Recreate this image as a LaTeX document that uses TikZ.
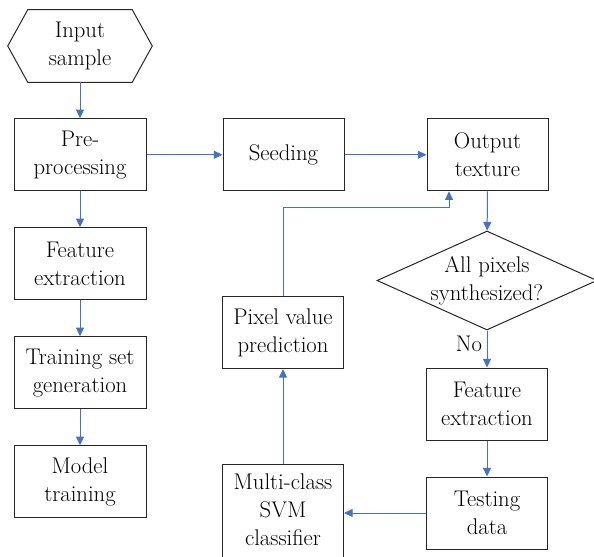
\documentclass[tikz,border=0pt]{standalone}
\usepackage{xcolor}
\usepackage{tikz}
\usetikzlibrary{shapes,arrows.meta,positioning}

\definecolor{flowblue}{HTML}{4472C4}

\begin{document}
\begin{tikzpicture}[
    x=0.75pt, y=-0.75pt,
    node distance=27pt,
    every node/.style={font=\rmfamily\fontsize{17}{21}\selectfont, align=center},
    box/.style={draw=black!85, line width=0.75pt, minimum width=99pt, minimum height=54pt, inner sep=2pt},
    narrowbox/.style={box, minimum width=90.75pt},
    decision/.style={draw=black!85, line width=0.75pt, diamond, minimum width=165pt, minimum height=74.25pt, inner sep=0pt},
    flow/.style={draw=flowblue, line width=0.75pt, -{Triangle[length=6.5pt,width=6pt]}}
]
    \useasboundingbox (0,0) rectangle (594,557);

    % training side
    \node [minimum width=108pt, minimum height=54pt, inner sep=0pt] (inp) at (80,46) {Input\\sample};
    \draw [draw=black!85, line width=0.75pt] (inp.west) -- ([xshift=15pt]inp.north west) -- ([xshift=-15pt]inp.north east)
        -- (inp.east) -- ([xshift=-15pt]inp.south east) -- ([xshift=15pt]inp.south west) -- cycle;
    \node [box, below=of inp] (pre) {Pre-\\processing};
    \node [box, below=of pre] (featL) {Feature\\extraction};
    \node [box, below=of featL] (train) {Training set\\generation};
    \node [box, below=of train] (model) {Model\\training};

    % synthesis side
    \node [narrowbox, right=57pt of pre] (seed) {Seeding};
    \node [narrowbox, right=61.5pt of seed] (out) {Output\\texture};
    \node [decision] (chk) at (487,280.5) {};
    \node (chklabel) at (chk.center) {All pixels\\synthesized?};
    \node [narrowbox] (featR) at (487,404) {Feature\\extraction};
    \node [narrowbox, below=of featR] (test) {Testing\\data};
    \node [narrowbox] (pix) at (283,332.5) {Pixel value\\prediction};
    \node [narrowbox, anchor=north, inner ysep=7pt, text depth=60pt] (svm) at (283,464) {Multi-class\\SVM\\classifier};
    \coordinate (bend) at (449,207);

    \draw [flow] (inp) -- (pre);
    \draw [flow] (pre) -- (featL);
    \draw [flow] (featL) -- (train);
    \draw [flow] (train) -- (model);
    \draw [flow] (pre) -- (seed);
    \draw [flow] (seed) -- (out);
    \draw [flow] (out) -- (chk);
    \draw [flow] (chk) -- node [left, pos=0.35] {No} (featR);
    \draw [flow] (featR) -- (test);
    \draw [flow] (test.west) -- (test.west -| svm.east);
    \draw [flow] (svm) -- (pix);
    \draw [flow] (pix.north) |- (bend) -- (bend |- out.south);
\end{tikzpicture}
\end{document}
